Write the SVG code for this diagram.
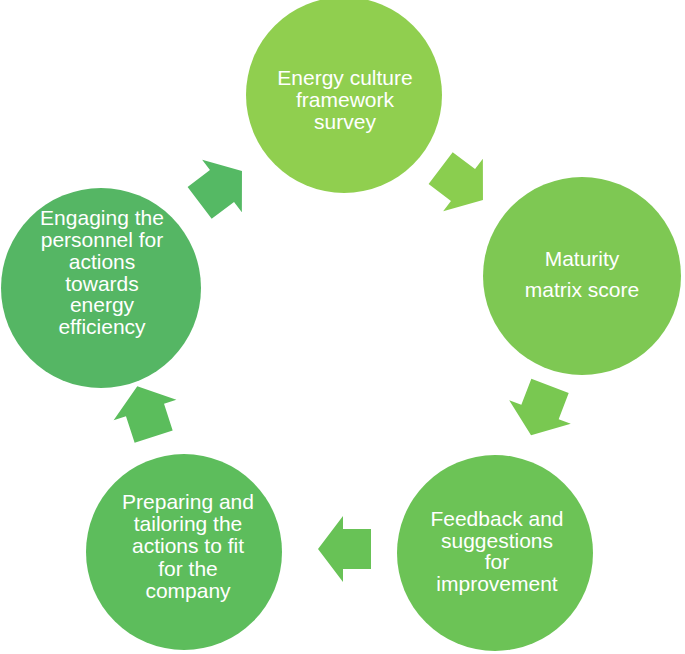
<svg xmlns="http://www.w3.org/2000/svg" width="685" height="654" viewBox="0 0 685 654">
<style>
.lbl{font-family:"Liberation Sans",Arial,sans-serif;font-size:21px;fill:#ffffff;text-anchor:middle}
</style>
<defs>
<path id="arr" d="M25,0 L0,-33 L0,-20 L-28,-20 L-28,20 L0,20 L0,33 Z"/>
</defs>
<rect width="685" height="654" fill="#ffffff"/>
<g id="connectors">
<use href="#arr" fill="#8ace4f" transform="translate(463,185) rotate(37)"/>
<use href="#arr" fill="#79c851" transform="translate(540,412) rotate(111)"/>
<use href="#arr" fill="#68c256" transform="translate(343,549) rotate(180)"/>
<use href="#arr" fill="#5bbd5c" transform="translate(145,410) rotate(252)"/>
<use href="#arr" fill="#55b964" transform="translate(222,186) rotate(-37)"/>
</g>
<g id="survey">
<circle cx="344" cy="95" r="98" fill="#90cf4f"/>
<text class="lbl" x="345" y="85">Energy culture</text>
<text class="lbl" x="345" y="107">framework</text>
<text class="lbl" x="345" y="129">survey</text>
</g>
<g id="maturity">
<circle cx="582" cy="276" r="99" fill="#7ec853"/>
<text class="lbl" x="582" y="266">Maturity</text>
<text class="lbl" x="582" y="297">matrix score</text>
</g>
<g id="feedback">
<circle cx="495" cy="553" r="98" fill="#6cc356"/>
<text class="lbl" x="497" y="526">Feedback and</text>
<text class="lbl" x="497" y="548">suggestions</text>
<text class="lbl" x="497" y="569">for</text>
<text class="lbl" x="497" y="591">improvement</text>
</g>
<g id="preparing">
<circle cx="184" cy="552" r="98" fill="#5dbd5c"/>
<text class="lbl" x="188" y="509">Preparing and</text>
<text class="lbl" x="188" y="531">tailoring the</text>
<text class="lbl" x="188" y="553">actions to fit</text>
<text class="lbl" x="188" y="576">for the</text>
<text class="lbl" x="188" y="598">company</text>
</g>
<g id="engaging">
<circle cx="101" cy="288" r="100" fill="#55b664"/>
<text class="lbl" x="102" y="225">Engaging the</text>
<text class="lbl" x="102" y="247">personnel for</text>
<text class="lbl" x="102" y="269">actions</text>
<text class="lbl" x="102" y="291">towards</text>
<text class="lbl" x="102" y="312">energy</text>
<text class="lbl" x="102" y="334">efficiency</text>
</g>
</svg>
